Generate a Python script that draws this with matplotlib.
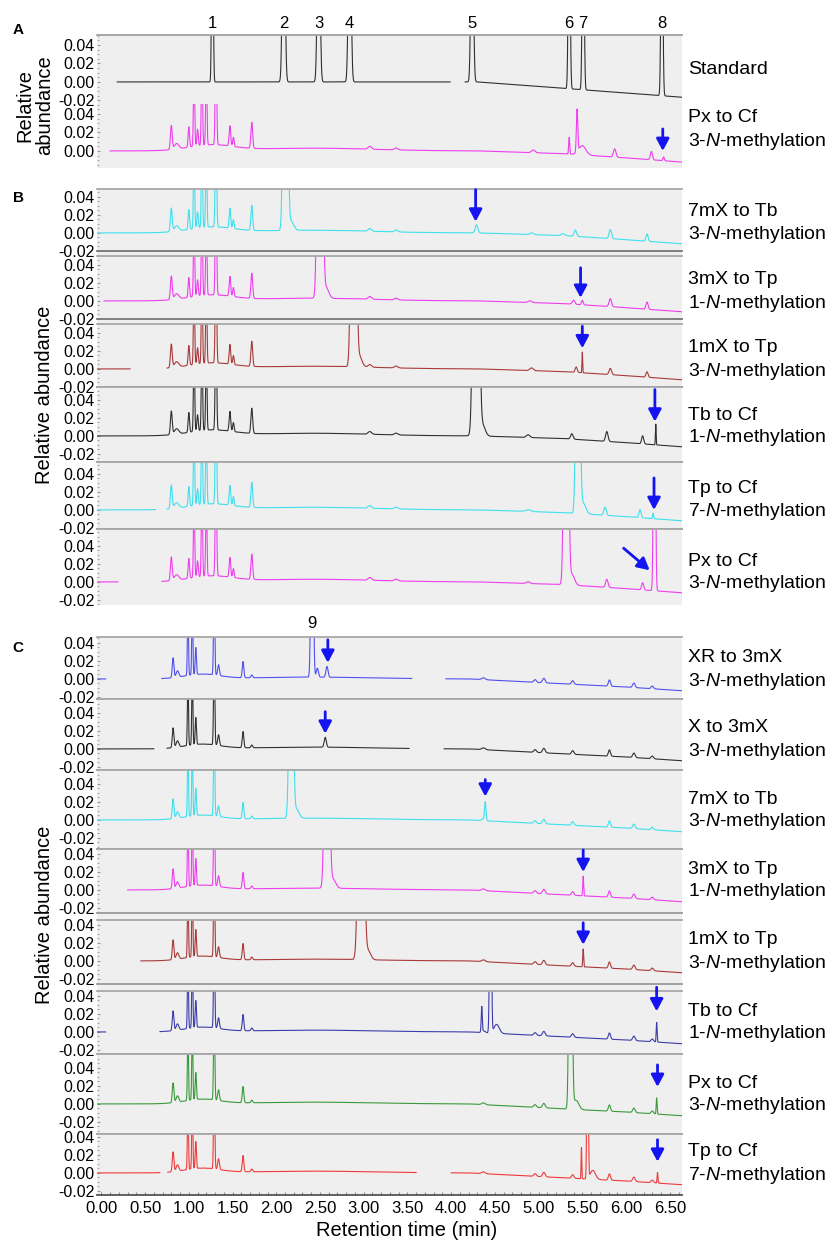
import numpy as np
import matplotlib.pyplot as plt
from matplotlib.patches import Rectangle
from matplotlib.ticker import MultipleLocator, FormatStrFormatter

plt.rcParams['font.family'] = ['Liberation Sans', 'DejaVu Sans']
plt.rcParams['mathtext.fontset'] = 'custom'
plt.rcParams['mathtext.rm'] = 'Liberation Sans'
plt.rcParams['mathtext.it'] = 'Liberation Sans:italic'

W, H = 833, 1240
LEFT, RIGHT = 97, 682
T_LIM = (-0.05, 6.64)
BG = '#efefef'
ARROW_C = '#1414f0'

# ---- data: peaks as (retention time, height, width) ----
MATRIX_B = [(0.80, 0.026, 0.010), (0.86, 0.006, 0.025), (1.00, 0.022, 0.008),
            (1.06, 0.09, 0.007), (1.10, 0.018, 0.008), (1.15, 0.10, 0.007),
            (1.20, 0.09, 0.007), (1.31, 0.12, 0.008), (1.47, 0.022, 0.009),
            (1.51, 0.010, 0.008), (1.72, 0.028, 0.010), (1.25, 0.006, 0.25),
            (2.40, 0.003, 0.70), (3.07, 0.003, 0.02), (3.37, 0.002, 0.02)]
MATRIX_C = [(0.82, 0.022, 0.009), (0.87, 0.007, 0.015), (0.99, 0.08, 0.006),
            (1.04, 0.09, 0.006), (1.08, 0.03, 0.007), (1.29, 0.10, 0.007),
            (1.34, 0.012, 0.010), (1.62, 0.018, 0.009), (1.72, 0.003, 0.010),
            (1.15, 0.005, 0.20), (2.40, 0.002, 0.70)]
LATE_C = [(4.37, 0.002, 0.02), (4.96, 0.003, 0.015), (5.06, 0.005, 0.015),
          (5.39, 0.004, 0.014), (5.81, 0.007, 0.012), (6.09, 0.005, 0.014),
          (6.30, 0.003, 0.014)]

STD_NUMS = ['1', '2', '3', '4', '5', '6', '7', '8']
STD_PEAKS = [(1.27, 0.30, 0.008), (2.085, 0.25, 0.014), (2.485, 0.25, 0.014),
             (2.84, 0.25, 0.014), (4.24, 0.25, 0.013), (5.35, 0.25, 0.010),
             (5.51, 0.25, 0.010), (6.41, 0.25, 0.010)]
A_PX_PEAKS = [(4.94, 0.003, 0.02), (5.35, 0.018, 0.006), (5.44, 0.046, 0.008),
              (5.50, 0.010, 0.04), (5.87, 0.009, 0.014), (6.29, 0.009, 0.012),
              (6.43, 0.004, 0.008)]

B1_PEAKS = [(2.105, 0.8, 0.018), (2.17, 0.010, 0.03), (4.29, 0.009, 0.015),
            (4.92, 0.002, 0.02), (5.28, 0.002, 0.02), (5.42, 0.007, 0.014),
            (5.82, 0.010, 0.014), (6.24, 0.008, 0.012)]
B2_PEAKS = [(2.50, 1.0, 0.020), (2.57, 0.012, 0.03), (4.90, 0.002, 0.02),
            (5.40, 0.0045, 0.014), (5.50, 0.005, 0.010), (5.82, 0.009, 0.014),
            (6.24, 0.008, 0.012)]
B3_PEAKS = [(2.885, 1.0, 0.020), (2.95, 0.012, 0.03), (4.92, 0.003, 0.02),
            (5.43, 0.006, 0.012), (5.50, 0.023, 0.004), (5.82, 0.007, 0.014),
            (6.24, 0.006, 0.012)]
B4_PEAKS = [(4.285, 1.0, 0.023), (4.36, 0.012, 0.03), (4.88, 0.003, 0.02),
            (5.38, 0.006, 0.014), (5.78, 0.011, 0.014), (6.19, 0.009, 0.012),
            (6.34, 0.023, 0.004)]
B5_PEAKS = [(5.45, 0.6, 0.017), (5.51, 0.012, 0.03), (4.88, 0.002, 0.03),
            (5.76, 0.009, 0.014), (6.16, 0.009, 0.012), (6.31, 0.006, 0.006)]
B6_PEAKS = [(5.315, 0.8, 0.018), (5.38, 0.012, 0.03), (4.88, 0.002, 0.02),
            (5.78, 0.009, 0.014), (6.19, 0.008, 0.012), (6.325, 0.4, 0.010)]

C1_PEAKS = [(2.41, 0.3, 0.012), (2.47, 0.010, 0.012), (2.58, 0.012, 0.012)]
C2_PEAKS = [(2.56, 0.011, 0.012)]
C3_PEAKS = [(2.17, 0.4, 0.018), (2.23, 0.010, 0.03), (4.39, 0.020, 0.008)]
C4_PEAKS = [(2.58, 0.6, 0.020), (2.65, 0.010, 0.03), (5.51, 0.022, 0.005)]
C5_PEAKS = [(2.97, 0.6, 0.024), (3.05, 0.010, 0.03), (5.51, 0.020, 0.005)]
C6_PEAKS = [(4.35, 0.028, 0.006), (4.45, 0.3, 0.009), (4.52, 0.010, 0.03),
            (6.35, 0.022, 0.005)]
C7_PEAKS = [(5.365, 0.5, 0.014), (5.43, 0.010, 0.03), (6.35, 0.018, 0.005)]
C8_PEAKS = [(5.49, 0.035, 0.004), (5.56, 0.3, 0.007), (5.62, 0.010, 0.03),
            (6.36, 0.012, 0.005)]

# baseline drift knots
DRIFT_T = [0.0, 4.3, 5.3, 6.0, 6.7]
DRIFT_STD = [0.0, 0.0, -0.007, -0.012, -0.017]
DRIFT_B = [0.0, 0.0, -0.003, -0.0075, -0.0125]
DRIFT_C_T = [0.0, 4.2, 5.0, 6.0, 6.7]
DRIFT_C = [0.0, 0.0, -0.004, -0.009, -0.0135]

B_NAMES = ['7mX to Tb', '3mX to Tp', '1mX to Tp', 'Tb to Cf', 'Tp to Cf', 'Px to Cf']
B_SITES = ['3', '1', '3', '1', '7', '3']
B_COLORS = ['#3ee0ee', '#f03cf0', '#a83a3a', '#303030', '#3ee0ee', '#f03cf0']
B_PEAKS = [B1_PEAKS, B2_PEAKS, B3_PEAKS, B4_PEAKS, B5_PEAKS, B6_PEAKS]
B_GAPS = [[], [(-0.1, 0.03)], [(0.33, 0.75)], [], [(0.62, 0.75)], [(0.19, 0.69)]]
# arrow: (time, tip value, dx px, dy px)
B_ARROWS = [(4.28, 0.0126, 0, 32), (5.48, 0.0035, 0, 30), (5.50, 0.023, 0, 22),
            (6.33, 0.016, 0, 32), (6.32, 0.0, 0, 32), (6.27, 0.013, -26, 22)]

C_NAMES = ['XR to 3mX', 'X to 3mX', '7mX to Tb', '3mX to Tp', '1mX to Tp',
           'Tb to Cf', 'Px to Cf', 'Tp to Cf']
C_SITES = ['3', '3', '3', '1', '3', '1', '3', '7']
C_COLORS = ['#5050f0', '#303030', '#3ee0ee', '#f03cf0', '#a83a3a',
            '#3c3caa', '#3a9a3a', '#f03a3a']
C_PEAKS = [C1_PEAKS, C2_PEAKS, C3_PEAKS, C4_PEAKS, C5_PEAKS, C6_PEAKS, C7_PEAKS, C8_PEAKS]
C_GAPS = [[(0.05, 0.69), (3.55, 3.94)], [(0.6, 0.75), (3.52, 3.92)], [], [(-0.1, 0.3)],
          [(-0.1, 0.45)], [(0.05, 0.67)], [], [(0.67, 0.76), (3.6, 4.0)]]
C_ARROWS = [(2.59, 0.018, 0, 23), (2.56, 0.017, 0, 22), (4.39, 0.026, 0, 17),
            (5.51, 0.020, 0, 22), (5.51, 0.018, 0, 22), (6.35, 0.023, 0, 24),
            (6.36, 0.019, 0, 22), (6.36, 0.0125, 0, 22)]

# layout in pixels: (top, zero, bottom)
A_POS = [(35, 82, 104), (104, 151, 168)]
B_POS = [(189, 233, 251), (256, 301, 319), (324, 369, 387), (387, 436, 462),
         (462, 510, 529), (529, 582, 605)]
C_POS = [(637, 679, 699), (699, 749, 770), (770, 820, 849), (849, 890, 913),
         (920, 961, 984), (991, 1032, 1054), (1054, 1104, 1134), (1134, 1173, 1195)]

T = np.arange(-0.05, 6.66, 0.0015)

fig = plt.figure(figsize=(W / 100, H / 100), dpi=100)


def fy(y):
    return 1 - y / H


def add_trace(pos, scale, peaks, dt, dv, gaps, color, top_c=None, bot_c=None):
    top, zero, bottom = pos
    ax = fig.add_axes([LEFT / W, fy(bottom), (RIGHT - LEFT) / W, (bottom - top) / H])
    ax.set_facecolor(BG)
    y = np.interp(T, dt, dv)
    for rt, h, w in peaks:
        y = y + h * np.exp(-0.5 * ((T - rt) / w) ** 2)
    for a, b in gaps:
        y[(T > a) & (T < b)] = np.nan
    ax.plot(T, y, color=color, lw=0.8)
    lo, hi = -(bottom - zero) / scale - 1e-4, (zero - top) / scale
    ax.set_xlim(*T_LIM)
    ax.set_ylim(lo, hi)
    ax.set_yticks([v for v in (-0.02, 0.0, 0.02, 0.04) if lo <= v <= hi])
    ax.yaxis.set_major_formatter(FormatStrFormatter('%.2f'))
    ax.yaxis.set_minor_locator(MultipleLocator(0.005))
    ax.tick_params(axis='y', which='major', direction='in', length=2.5, width=0.8,
                   color='#999999', labelsize=11.5, pad=2)
    ax.tick_params(axis='y', which='minor', direction='in', length=1.5, width=0.8,
                   color='#aaaaaa')
    ax.set_xticks([])
    for s in ('left', 'right'):
        ax.spines[s].set_visible(False)
    for s, c in (('top', top_c), ('bottom', bot_c)):
        if c is None:
            ax.spines[s].set_visible(False)
        else:
            ax.spines[s].set_color(c)
            ax.spines[s].set_linewidth(1.3)
    return ax


def add_arrow(ax, arrow):
    t, yt, dx, dy = arrow
    ax.annotate('', xy=(t, yt), xytext=(dx * 0.72, dy * 0.72), textcoords='offset points',
                arrowprops=dict(arrowstyle='-|>,head_length=0.6,head_width=0.32',
                                color=ARROW_C, lw=2, mutation_scale=12,
                                shrinkA=0, shrinkB=0))


def side_label(name, site, zero):
    fig.text(688 / W, fy(zero - 21), name, fontsize=14, ha='left', va='center')
    fig.text(688 / W, fy(zero + 2), site + r'-$\mathit{N}$-methylation',
             fontsize=14, ha='left', va='center')


# panel backgrounds
for top, bot in ((35, 168), (189, 605), (637, 1195)):
    fig.add_artist(Rectangle((LEFT / W, fy(bot)), (RIGHT - LEFT) / W, (bot - top) / H,
                             transform=fig.transFigure, facecolor=BG, edgecolor='none',
                             zorder=-1))

# ---- panel A ----
ax_std = add_trace(A_POS[0], 925, STD_PEAKS, DRIFT_T, DRIFT_STD,
                   [(-0.1, 0.18), (3.99, 4.16)], '#303030', top_c='#a0a0a0')
for num, (rt, _, _) in zip(STD_NUMS, STD_PEAKS):
    ax_std.annotate(num, xy=(rt, 1), xycoords=('data', 'axes fraction'),
                    xytext=(0, 12 * 0.72), textcoords='offset points',
                    ha='center', va='center', fontsize=12)
fig.text(688 / W, fy(70), 'Standard', fontsize=14, ha='left', va='center')

ax_apx = add_trace(A_POS[1], 925, MATRIX_B + A_PX_PEAKS, DRIFT_T, DRIFT_B,
                   [(-0.1, 0.10)], '#f03cf0')
add_arrow(ax_apx, (6.42, 0.0, 0, 22))
fig.text(688 / W, fy(118), 'Px to Cf', fontsize=14, ha='left', va='center')
fig.text(688 / W, fy(141), r'3-$\mathit{N}$-methylation', fontsize=14, ha='left', va='center')

# ---- panel B ----
for i in range(6):
    ax = add_trace(B_POS[i], 900, MATRIX_B + B_PEAKS[i], DRIFT_T, DRIFT_B, B_GAPS[i],
                   B_COLORS[i], top_c='#a8a8a8', bot_c=None if i == 5 else '#777777')
    add_arrow(ax, B_ARROWS[i])
    side_label(B_NAMES[i], B_SITES[i], B_POS[i][1])

# ---- panel C ----
for i in range(8):
    ax = add_trace(C_POS[i], 900, MATRIX_C + LATE_C + C_PEAKS[i], DRIFT_C_T, DRIFT_C,
                   C_GAPS[i], C_COLORS[i], top_c='#a8a8a8',
                   bot_c='#555555' if i == 7 else '#999999')
    add_arrow(ax, C_ARROWS[i])
    side_label(C_NAMES[i], C_SITES[i], C_POS[i][1])
    if i == 0:
        ax.annotate('9', xy=(2.41, 1), xycoords=('data', 'axes fraction'),
                    xytext=(0, 13 * 0.72), textcoords='offset points',
                    ha='center', va='center', fontsize=12)
    if i == 7:
        ax.set_xticks(np.arange(0, 6.51, 0.5))
        ax.xaxis.set_major_formatter(FormatStrFormatter('%.2f'))
        ax.xaxis.set_minor_locator(MultipleLocator(0.1))
        ax.tick_params(axis='x', which='both', direction='in', length=2, width=0.8,
                       color='#888888', labelsize=12, pad=4)

# axis titles and panel letters
fig.text(25 / W, fy(105), 'Relative', rotation=90, fontsize=14.5, ha='center', va='center')
fig.text(45 / W, fy(105), 'abundance', rotation=90, fontsize=14.5, ha='center', va='center')
fig.text(45 / W, fy(395), 'Relative abundance', rotation=90, fontsize=14.5,
         ha='center', va='center')
fig.text(45 / W, fy(915), 'Relative abundance', rotation=90, fontsize=14.5,
         ha='center', va='center')
fig.text(407 / W, fy(1231), 'Retention time (min)', fontsize=14.5, ha='center', va='center')
for letter, y in (('A', 30), ('B', 198), ('C', 648)):
    fig.text(18 / W, fy(y), letter, fontsize=11, fontweight='bold', ha='center', va='center')

fig.savefig('out.png', dpi=100)
